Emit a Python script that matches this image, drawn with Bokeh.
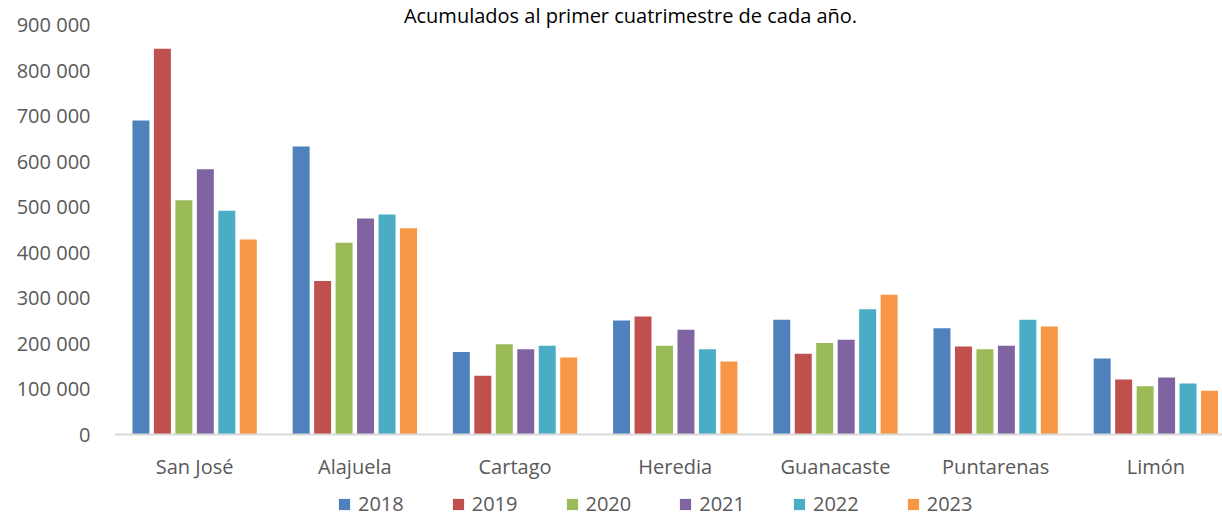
from bokeh.plotting import figure
from bokeh.models import (ColumnDataSource, Range1d, FixedTicker, Legend, LegendItem, Label, Span)
from bokeh.transform import dodge
from bokeh.core.properties import value
from bokeh.embed import file_html
from bokeh.resources import INLINE

provinces = ["San José", "Alajuela", "Cartago", "Heredia", "Guanacaste", "Puntarenas", "Limón"]
years = ["2018", "2019", "2020", "2021", "2022", "2023"]
v2018 = [689000, 632000, 181000, 250000, 252000, 233000, 167000]
v2019 = [847000, 337000, 129000, 259000, 177000, 193000, 121000]
v2020 = [514000, 421000, 198000, 195000, 201000, 187000, 106000]
v2021 = [582000, 474000, 187000, 230000, 208000, 195000, 125000]
v2022 = [491000, 483000, 195000, 187000, 275000, 252000, 112000]
v2023 = [428000, 453000, 169000, 160000, 307000, 237000, 96000]
series = [v2018, v2019, v2020, v2021, v2022, v2023]
colors = ["#4F81BD", "#C0504D", "#9BBB59", "#8064A2", "#4BACC6", "#F79646"]
y_ticks = [0, 100000, 200000, 300000, 400000, 500000, 600000, 700000, 800000, 900000]
y_max = 900000
title_text = "Acumulados al primer cuatrimestre de cada año."

FONT = "Open Sans"
GREY = "#595959"

data = {"x": [i + 0.5 for i in range(len(provinces))], "name": provinces,
        "base": [0] * len(provinces)}
for y, s in zip(years, series):
    data[y] = s
src = ColumnDataSource(data)

W, H = 1222, 517
TOP_PX = 24              # window row of the top tick value
BASE_PX = 434            # window row of the value 0
px_per_unit = (BASE_PX - TOP_PX) / y_max
y_start = -(H - BASE_PX) / px_per_unit   # room below the baseline for labels + legend
y_end = y_max + TOP_PX / px_per_unit     # room above for the title

p = figure(width=W, height=H, output_backend="svg", toolbar_location=None,
           x_range=Range1d(0, 6.916), y_range=Range1d(y_start, y_end),
           min_border_left=114, min_border_right=0, min_border_top=0, min_border_bottom=0,
           x_axis_location=None)
p.outline_line_color = None
p.grid.visible = False
p.background_fill_color = "white"
p.border_fill_color = "white"

slot = 0.134
bw = 0.106
renderers = []
for j, (yr, c) in enumerate(zip(years, colors)):
    r = p.vbar(x=dodge("x", (j - 2.5) * slot, range=p.x_range), top=yr, bottom=0, width=bw,
               source=src, fill_color=c, line_color=None)
    renderers.append(r)

# baseline (category axis line)
p.add_layout(Span(location=0, dimension="width", line_color="#D9D9D9", line_width=2))

# category labels
p.text(x="x", y="base", text="name", source=src, y_offset=32,
       text_font=value(FONT), text_font_size="20px", text_color=GREY,
       text_align="center", text_baseline="middle")

# y axis
p.yaxis.ticker = FixedTicker(ticks=y_ticks)
p.yaxis.major_label_overrides = {t: f"{t:,}".replace(",", " ") for t in y_ticks}
p.yaxis.axis_line_color = None
p.yaxis.major_tick_line_color = None
p.yaxis.major_tick_out = 0
p.yaxis.major_tick_in = 0
p.yaxis.minor_tick_line_color = None
p.yaxis.major_label_text_font = FONT
p.yaxis.major_label_text_font_size = "20px"
p.yaxis.major_label_text_color = GREY
p.yaxis.major_label_standoff = 24

legend = Legend(items=[LegendItem(label=y, renderers=[r]) for y, r in zip(years, renderers)],
                orientation="horizontal", location=(223, 0),
                glyph_width=14, glyph_height=14, label_standoff=7, spacing=47,
                padding=0, margin=0, border_line_color=None, background_fill_alpha=0,
                label_text_font=FONT, label_text_font_size="20px", label_text_color=GREY)
p.add_layout(legend, "center")

title = Label(x=516, y=H - 15, x_units="screen", y_units="screen", text=title_text,
              text_font=FONT, text_font_size="20px", text_color="#000000",
              text_align="center", text_baseline="alphabetic")
p.add_layout(title)

open("out.html", "w").write(file_html(p, INLINE))
